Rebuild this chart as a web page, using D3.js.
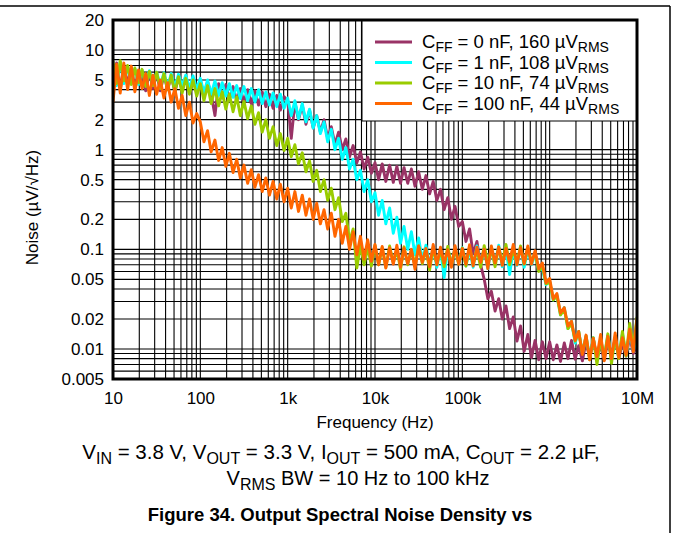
<!DOCTYPE html>
<html>
<head>
  <meta charset="utf-8">
  <title>Output Spectral Noise Density</title>
  <style>
    body { margin: 0; background: #fff; }
    svg text { font-family: "Liberation Sans", Arial, sans-serif; fill: #000; }
    .grid line { stroke: #000; stroke-width: 1.1; }
    .curve { fill: none; stroke-width: 2.9; stroke-linejoin: round; }
  </style>
</head>
<body>
<svg width="673" height="533"></svg>
<script src="https://cdn.jsdelivr.net/npm/d3@7"></script>
<script>
  // frequency points (Hz), shared by all curves
  var freqs = [
    10, 11, 12.1, 13.3, 14.7, 16.2, 17.8, 19.6, 21.5, 23.7, 26.1, 28.7, 31.6, 34.8, 38.3, 42.2, 46.4, 51.1, 56.2, 61.9, 68.1, 75, 82.5, 90.9,
    100, 110, 121, 133, 147, 162, 178, 196, 215, 237, 261, 287, 316, 348, 383, 422, 464, 511, 562, 619, 681, 750, 825, 909,
    1000, 1100, 1210, 1330, 1470, 1620, 1780, 1960, 2150, 2370, 2610, 2870, 3160, 3480, 3830, 4220, 4640, 5110, 5620, 6190, 6810, 7500, 8250, 9090,
    1e4, 1.1e4, 1.21e4, 1.33e4, 1.47e4, 1.62e4, 1.78e4, 1.96e4, 2.15e4, 2.37e4, 2.61e4, 2.87e4, 3.16e4, 3.48e4, 3.83e4, 4.22e4, 4.64e4, 5.11e4, 5.62e4, 6.19e4, 6.81e4, 7.5e4, 8.25e4, 9.09e4,
    1e5, 1.1e5, 1.21e5, 1.33e5, 1.47e5, 1.62e5, 1.78e5, 1.96e5, 2.15e5, 2.37e5, 2.61e5, 2.87e5, 3.16e5, 3.48e5, 3.83e5, 4.22e5, 4.64e5, 5.11e5, 5.62e5, 6.19e5, 6.81e5, 7.5e5, 8.25e5, 9.09e5,
    1e6, 1.1e6, 1.21e6, 1.33e6, 1.47e6, 1.62e6, 1.78e6, 1.96e6, 2.15e6, 2.37e6, 2.61e6, 2.87e6, 3.16e6, 3.48e6, 3.83e6, 4.22e6, 4.64e6, 5.11e6, 5.62e6, 6.19e6, 6.81e6, 7.5e6, 8.25e6, 9.09e6,
    1e7
  ];

  // noise, uV/rtHz
  var cff0 = [
    4.2, 7.4, 4.0, 6.9, 4.6, 6.6, 4.2, 6.2, 5.4, 3.9, 6.0, 4.1, 5.8, 3.9, 5.6, 4.0, 5.5, 3.8, 5.3, 4.0, 5.4, 3.7, 5.1, 3.9,
    5.0, 3.5, 4.8, 3.6, 2.2, 4.6, 3.3, 4.5, 3.2, 4.3, 3.1, 4.1, 3.0, 4.0, 2.9, 3.9, 2.8, 3.8, 2.7, 3.6, 2.6, 3.5, 2.5, 3.4,
    3.1, 1.3, 3.0, 2.0, 2.8, 1.8, 2.5, 1.65, 2.2, 1.5, 2.0, 1.3, 1.7, 1.12, 1.5, 1.0, 1.28, 0.85, 1.1, 0.74, 0.95, 0.64, 0.84, 0.58,
    0.74, 0.5, 0.72, 0.48, 0.7, 0.47, 0.68, 0.46, 0.66, 0.46, 0.64, 0.43, 0.6, 0.4, 0.55, 0.36, 0.48, 0.31, 0.4, 0.25, 0.33, 0.2, 0.27, 0.17,
    0.19, 0.12, 0.16, 0.09, 0.12, 0.07, 0.05, 0.032, 0.038, 0.024, 0.032, 0.02, 0.027, 0.016, 0.021, 0.012, 0.017, 0.0095, 0.014, 0.0082, 0.0122, 0.0078, 0.0118, 0.008,
    0.0118, 0.0078, 0.011, 0.0075, 0.0115, 0.008, 0.0122, 0.0079, 0.0108, 0.0076, 0.0118, 0.0081, 0.0125, 0.008, 0.011, 0.0078, 0.012, 0.0083, 0.013, 0.008, 0.0115, 0.0085, 0.0132, 0.009,
    0.011
  ];
  var cff1 = [
    7.0, 4.4, 7.6, 4.6, 6.7, 4.9, 6.5, 4.5, 6.3, 4.6, 6.2, 4.4, 6.0, 4.4, 5.9, 4.3, 5.8, 4.2, 5.7, 4.3, 5.6, 4.1, 5.5, 4.0,
    5.2, 3.7, 5.0, 3.6, 4.9, 3.5, 4.7, 3.45, 4.6, 3.35, 4.4, 3.25, 4.3, 3.1, 4.1, 3.0, 4.0, 2.9, 3.8, 2.8, 3.7, 2.7, 3.6, 2.6,
    3.3, 2.2, 3.1, 2.05, 2.9, 1.9, 2.55, 1.65, 2.2, 1.45, 1.9, 1.2, 1.6, 1.0, 1.3, 0.8, 1.05, 0.64, 0.8, 0.5, 0.62, 0.38, 0.5, 0.3,
    0.37, 0.22, 0.31, 0.18, 0.26, 0.145, 0.21, 0.115, 0.17, 0.1, 0.15, 0.088, 0.13, 0.078, 0.11, 0.07, 0.104, 0.066, 0.1, 0.052, 0.102, 0.068, 0.105, 0.072,
    0.104, 0.068, 0.1, 0.066, 0.108, 0.07, 0.1, 0.064, 0.106, 0.071, 0.11, 0.067, 0.102, 0.056, 0.1, 0.069, 0.107, 0.066, 0.1, 0.07, 0.088, 0.062, 0.064, 0.044,
    0.048, 0.031, 0.035, 0.022, 0.026, 0.016, 0.019, 0.0115, 0.015, 0.0092, 0.0135, 0.0082, 0.013, 0.0078, 0.0125, 0.0082, 0.0138, 0.0077, 0.0128, 0.0084, 0.0142, 0.0086, 0.015, 0.0095,
    0.014
  ];
  var cff10 = [
    7.7, 4.6, 7.8, 4.9, 7.0, 4.5, 6.6, 4.7, 6.4, 4.3, 6.1, 4.4, 6.0, 4.1, 5.8, 4.0, 5.6, 3.8, 5.4, 3.7, 5.2, 3.6, 5.0, 3.45,
    4.6, 3.1, 4.4, 2.9, 4.1, 2.75, 3.8, 2.55, 3.6, 2.4, 3.4, 2.2, 3.05, 2.05, 2.75, 1.8, 2.35, 1.5, 2.0, 1.3, 1.7, 1.1, 1.45, 0.98,
    1.3, 0.85, 1.12, 0.72, 0.93, 0.6, 0.77, 0.48, 0.62, 0.38, 0.5, 0.31, 0.41, 0.25, 0.33, 0.19, 0.23, 0.12, 0.16, 0.065, 0.11, 0.07, 0.105, 0.068,
    0.11, 0.07, 0.104, 0.066, 0.108, 0.073, 0.1, 0.063, 0.106, 0.07, 0.099, 0.068, 0.108, 0.072, 0.1, 0.062, 0.104, 0.07, 0.098, 0.067, 0.107, 0.069, 0.1, 0.071,
    0.103, 0.068, 0.106, 0.071, 0.1, 0.066, 0.109, 0.073, 0.102, 0.067, 0.105, 0.072, 0.112, 0.07, 0.1, 0.073, 0.108, 0.071, 0.104, 0.075, 0.092, 0.06, 0.068, 0.045,
    0.047, 0.031, 0.034, 0.022, 0.025, 0.016, 0.018, 0.012, 0.015, 0.009, 0.0135, 0.0078, 0.013, 0.007, 0.0125, 0.0082, 0.0142, 0.0072, 0.0132, 0.008, 0.015, 0.0085, 0.018, 0.0102,
    0.021
  ];
  var cff100 = [
    3.0, 7.2, 3.7, 7.4, 4.0, 6.9, 3.8, 6.3, 4.1, 5.8, 3.5, 5.6, 3.6, 5.0, 3.3, 4.7, 3.0, 4.1, 2.6, 3.5, 2.2, 3.0, 1.85, 2.3,
    1.9, 1.2, 1.55, 0.95, 1.25, 0.78, 1.05, 0.68, 0.92, 0.59, 0.8, 0.52, 0.7, 0.46, 0.63, 0.42, 0.56, 0.38, 0.52, 0.35, 0.48, 0.32, 0.45, 0.3,
    0.41, 0.26, 0.38, 0.24, 0.35, 0.22, 0.32, 0.2, 0.29, 0.18, 0.25, 0.16, 0.23, 0.135, 0.2, 0.115, 0.17, 0.1, 0.15, 0.088, 0.135, 0.08, 0.125, 0.076,
    0.112, 0.07, 0.107, 0.065, 0.104, 0.071, 0.11, 0.066, 0.103, 0.072, 0.1, 0.063, 0.108, 0.074, 0.102, 0.067, 0.112, 0.07, 0.105, 0.073, 0.099, 0.066, 0.109, 0.071,
    0.102, 0.071, 0.111, 0.068, 0.105, 0.074, 0.1, 0.064, 0.108, 0.073, 0.106, 0.069, 0.102, 0.075, 0.112, 0.07, 0.104, 0.072, 0.108, 0.071, 0.097, 0.064, 0.073, 0.046,
    0.051, 0.032, 0.036, 0.023, 0.026, 0.017, 0.019, 0.0122, 0.015, 0.0088, 0.0138, 0.0078, 0.0128, 0.0084, 0.014, 0.0076, 0.0134, 0.008, 0.0145, 0.0082, 0.013, 0.0087, 0.0158, 0.0094,
    0.02
  ];

  var seriesNames = ["0", "1", "10", "100"];
  var seriesRms = ["160", "108", "74", "44"];
  var seriesColors = ["#993366", "#00ffff", "#99cc00", "#ff6600"];

  var xTicks = [10, 100, 1e3, 1e4, 1e5, 1e6, 1e7];
  var xTickLabels = ["10", "100", "1k", "10k", "100k", "1M", "10M"];
  var yTicks = [20, 10, 5, 2, 1, 0.5, 0.2, 0.1, 0.05, 0.02, 0.01, 0.005];
  var yTickLabels = ["20", "10", "5", "2", "1", "0.5", "0.2", "0.1", "0.05", "0.02", "0.01", "0.005"];

  var svg = d3.select("svg"),
      margin = {top: 20, right: 36, bottom: 154, left: 113},
      width = +svg.attr("width") - margin.left - margin.right,
      height = +svg.attr("height") - margin.top - margin.bottom;

  // page frame
  svg.append("line").attr("x1", 0).attr("x2", 670).attr("y1", 6).attr("y2", 6)
      .attr("stroke", "#000").attr("stroke-width", 1.5);
  svg.append("line").attr("x1", 670).attr("x2", 670).attr("y1", 6).attr("y2", 533)
      .attr("stroke", "#000").attr("stroke-width", 1.5);

  var g = svg.append("g").attr("transform", "translate(" + margin.left + "," + margin.top + ")");

  var x = d3.scaleLog().domain([10, 1e7]).range([0, width]);
  var y = d3.scaleLog().domain([0.005, 20]).range([height, 0]);

  // grid lines at 1..9 of every decade
  var xGrid = [], yGrid = [];
  [10, 100, 1e3, 1e4, 1e5, 1e6].forEach(function(d) {
    for (var k = 1; k < 10; k++) xGrid.push(d * k);
  });
  xGrid.push(1e7);
  [0.001, 0.01, 0.1, 1, 10].forEach(function(d) {
    for (var k = 1; k < 10; k++) if (d * k >= 0.005 && d * k <= 20) yGrid.push(d * k);
  });
  yGrid.push(20);

  var grid = g.append("g").attr("class", "grid");
  grid.selectAll(".gx").data(xGrid).enter().append("line")
      .attr("x1", function(d) { return x(d); }).attr("x2", function(d) { return x(d); })
      .attr("y1", 0).attr("y2", height);
  grid.selectAll(".gy").data(yGrid).enter().append("line")
      .attr("y1", function(d) { return y(d); }).attr("y2", function(d) { return y(d); })
      .attr("x1", 0).attr("x2", width);

  g.append("clipPath").attr("id", "clip")
    .append("rect").attr("width", width).attr("height", height);

  var line = d3.line()
      .x(function(d) { return x(d[0]); })
      .y(function(d) { return y(d[1]); });

  var allSeries = [cff0, cff1, cff10, cff100];
  g.append("g").attr("clip-path", "url(#clip)")
    .selectAll("path").data(allSeries).enter().append("path")
      .attr("class", "curve")
      .attr("stroke", function(d, i) { return seriesColors[i]; })
      .attr("d", function(d) { return line(d.map(function(v, i) { return [freqs[i], v]; })); });

  // legend
  var legend = g.append("g").attr("transform", "translate(" + (width - 275) + ",0)");
  legend.append("rect").attr("width", 275).attr("height", 101)
      .attr("fill", "#fff").attr("stroke", "#000").attr("stroke-width", 1);
  seriesNames.forEach(function(name, i) {
    var ly = 22 + i * 20.5;
    legend.append("line").attr("x1", 13).attr("x2", 50).attr("y1", ly).attr("y2", ly)
        .attr("stroke", seriesColors[i]).attr("stroke-width", 3);
    var t = legend.append("text").attr("x", 60).attr("y", ly + 6).style("font-size", "18.5px");
    t.append("tspan").text("C");
    t.append("tspan").attr("dy", 4).style("font-size", "14px").text("FF");
    t.append("tspan").attr("dy", -4).text(" = " + name + " nF, " + seriesRms[i] + " \u00b5V");
    t.append("tspan").attr("dy", 4).style("font-size", "14px").text("RMS");
  });

  // axes
  g.append("g")
      .attr("transform", "translate(0," + height + ")")
      .call(d3.axisBottom(x).tickValues(xTicks).tickSize(0).tickPadding(13)
        .tickFormat(function(d, i) { return xTickLabels[i]; }))
      .call(function(a) { a.select(".domain").remove(); })
      .selectAll("text").style("font-size", "17px").attr("font-family", null);

  g.append("g")
      .call(d3.axisLeft(y).tickValues(yTicks).tickSize(0).tickPadding(9)
        .tickFormat(function(d, i) { return yTickLabels[i]; }))
      .call(function(a) { a.select(".domain").remove(); })
      .selectAll("text").style("font-size", "17px").attr("font-family", null);

  g.append("rect").attr("width", width).attr("height", height)
      .attr("fill", "none").attr("stroke", "#000").attr("stroke-width", 3);

  g.append("text")
      .attr("x", width / 2).attr("y", height + 49)
      .attr("text-anchor", "middle").style("font-size", "17px")
      .text("Frequency (Hz)");

  g.append("text")
      .attr("transform", "rotate(-90)")
      .attr("x", -height / 2 - 8).attr("y", -75)
      .attr("text-anchor", "middle").style("font-size", "17px")
      .text("Noise (\u00b5V/\u221aHz)");

  // conditions + caption
  function subText(sel, parts) {
    var shift = 0;
    parts.forEach(function(p) {
      var ts = sel.append("tspan").text(p[0]);
      var want = p[1] ? 5 : 0;
      if (want !== shift) ts.attr("dy", want - shift);
      if (p[1]) ts.style("font-size", "16px");
      shift = want;
    });
  }
  var c1 = svg.append("text").attr("x", 341).attr("y", 459)
      .attr("text-anchor", "middle").style("font-size", "20.5px");
  subText(c1, [["V", 0], ["IN", 1], [" = 3.8 V, V", 0], ["OUT", 1], [" = 3.3 V, I", 0], ["OUT", 1],
               [" = 500 mA, C", 0], ["OUT", 1], [" = 2.2 \u00b5F,", 0]]);
  var c2 = svg.append("text").attr("x", 358).attr("y", 485)
      .attr("text-anchor", "middle").style("font-size", "20px");
  subText(c2, [["V", 0], ["RMS", 1], [" BW = 10 Hz to 100 kHz", 0]]);

  svg.append("text").attr("x", 340).attr("y", 521)
      .attr("text-anchor", "middle").style("font-size", "18.5px").style("font-weight", "bold")
      .text("Figure 34. Output Spectral Noise Density vs");
</script>
</body>
</html>
